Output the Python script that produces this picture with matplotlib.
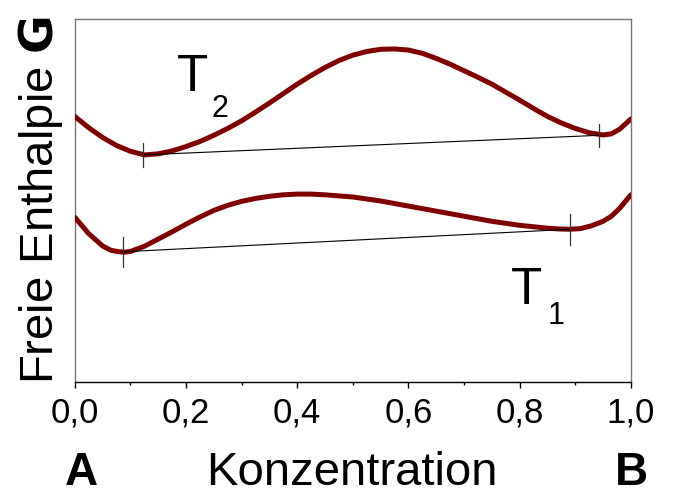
import numpy as np
import matplotlib.pyplot as plt
from matplotlib.ticker import MultipleLocator, FuncFormatter

plt.rcParams['font.family'] = ['Liberation Sans', 'DejaVu Sans']

# free enthalpy curves (arbitrary units, 0..1)
x_t2 = [0.0, 0.025, 0.05, 0.075, 0.10, 0.125, 0.15, 0.175, 0.20, 0.225, 0.25, 0.275,
        0.30, 0.325, 0.35, 0.375, 0.40, 0.425, 0.45, 0.475, 0.50, 0.525, 0.55, 0.575,
        0.60, 0.625, 0.65, 0.675, 0.70, 0.725, 0.75, 0.775, 0.80, 0.825, 0.85, 0.875,
        0.90, 0.925, 0.95, 0.965, 0.98, 1.0]
g_t2 = [0.731, 0.700, 0.673, 0.651, 0.635, 0.625, 0.628, 0.636, 0.648, 0.662, 0.679, 0.698,
        0.719, 0.743, 0.768, 0.794, 0.820, 0.844, 0.866, 0.885, 0.900, 0.910, 0.916, 0.917,
        0.914, 0.905, 0.891, 0.875, 0.857, 0.839, 0.820, 0.798, 0.776, 0.753, 0.731, 0.713,
        0.698, 0.686, 0.680, 0.683, 0.696, 0.724]

x_t1 = [0.0, 0.025, 0.05, 0.065, 0.08, 0.09, 0.10, 0.125, 0.15, 0.175, 0.20, 0.225, 0.25,
        0.275, 0.30, 0.325, 0.35, 0.375, 0.40, 0.425, 0.45, 0.50, 0.55, 0.60, 0.65, 0.70,
        0.75, 0.80, 0.85, 0.87, 0.89, 0.91, 0.93, 0.95, 0.965, 0.98, 1.0]
g_t1 = [0.453, 0.408, 0.374, 0.362, 0.358, 0.357, 0.359, 0.373, 0.393, 0.413, 0.434, 0.454,
        0.472, 0.486, 0.497, 0.505, 0.511, 0.515, 0.517, 0.517, 0.515, 0.509, 0.498, 0.484,
        0.470, 0.456, 0.442, 0.431, 0.423, 0.421, 0.420, 0.422, 0.430, 0.442, 0.456, 0.478,
        0.515]

# common tangents (touch points)
tan_t2_x = [0.123, 0.943]
tan_t2_g = [0.625, 0.679]
tan_t1_x = [0.087, 0.891]
tan_t1_g = [0.358, 0.420]

curve_col = '#800000'

fig = plt.figure(figsize=(6.74, 4.96), dpi=100)
ax = fig.add_axes([0.111, 0.2305, 0.825, 0.7315])

ax.plot(x_t2, g_t2, color=curve_col, lw=3.6, solid_capstyle='round',
        solid_joinstyle='round', zorder=3)
ax.plot(x_t1, g_t1, color=curve_col, lw=3.6, solid_capstyle='round',
        solid_joinstyle='round', zorder=3)

# tangent lines with small vertical marks at the touch points
for xs, gs, half in [(tan_t2_x, tan_t2_g, 0.032), (tan_t1_x, tan_t1_g, 0.042)]:
    ax.plot(xs, gs, color='black', lw=0.8, zorder=4)
    for xv, gv in zip(xs, gs):
        ax.plot([xv, xv], [gv - half, gv + half], color='#333333', lw=0.9, zorder=4)

# curve labels
ax.text(0.183, 0.80, 'T', fontsize=37, ha='left', va='baseline')
ax.text(0.246, 0.73, '2', fontsize=22, ha='left', va='baseline')
ax.text(0.785, 0.215, 'T', fontsize=37, ha='left', va='baseline')
ax.text(0.850, 0.16, '1', fontsize=22, ha='left', va='baseline')

ax.set_xlim(0, 1)
ax.set_ylim(0, 1)

ax.xaxis.set_major_locator(MultipleLocator(0.2))
ax.xaxis.set_minor_locator(MultipleLocator(0.1))
ax.xaxis.set_major_formatter(FuncFormatter(lambda v, p: ('%.1f' % v).replace('.', ',')))
ax.tick_params(axis='x', which='major', length=4.5, width=1, labelsize=25, pad=6)
ax.tick_params(axis='x', which='minor', length=2.5, width=1)
ax.set_yticks([])

for side in ['left', 'top', 'right']:
    ax.spines[side].set_color('#777777')
    ax.spines[side].set_linewidth(1)
ax.spines['bottom'].set_color('black')
ax.spines['bottom'].set_linewidth(1)

ax.set_ylabel('Freie Enthalpie $\\mathbf{G}$', fontsize=34, labelpad=7)

# axis title and component labels under the axis
base_y = 1 - 485 / 496
fig.text(352 / 674, base_y, 'Konzentration', fontsize=34, ha='center', va='baseline')
fig.text(81 / 674, base_y, 'A', fontsize=33, fontweight='bold', ha='center', va='baseline')
fig.text(631 / 674, base_y, 'B', fontsize=33, fontweight='bold', ha='center', va='baseline')

fig.savefig('out.png', dpi=100)
